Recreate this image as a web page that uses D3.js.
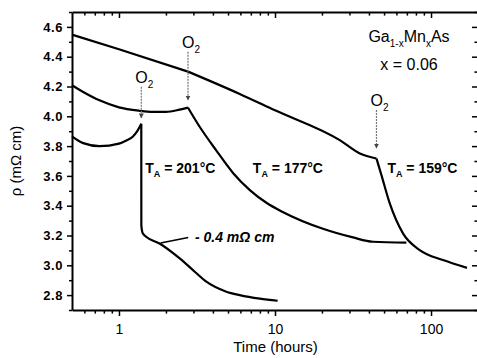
<!DOCTYPE html>
<html>
  <head>
    <meta charset="utf-8">
    <title>GaMnAs anneal</title>
    <style>
      body { margin: 0; background: #fff; }
      svg text { font-family: "Liberation Sans", Arial, sans-serif; }
    </style>
  </head>
  <body>
    <div id="chart"></div>
    <script src="https://d3js.org/d3.v7.min.js"></script>
    <script>
        var w = 477, h = 358;

        // resistivity (mOhm cm) vs time (hours)
        // each curve is split at the O2 kink
        var run201 = [
            [[0.5, 3.866], [0.59, 3.82], [0.75, 3.80], [1.0, 3.817], [1.115, 3.838], [1.23, 3.865], [1.3, 3.895], [1.39, 3.95]],
            [[1.39, 3.95], [1.391, 3.27], [1.42, 3.215], [1.5, 3.19], [1.82, 3.146], [2.45, 3.046], [2.98, 2.968], [3.63, 2.89], [4.88, 2.823], [5.94, 2.80], [8.0, 2.776], [10.4, 2.762]]
        ];
        var run177 = [
            [[0.5, 4.208], [0.59, 4.163], [0.75, 4.107], [1.0, 4.06], [1.36, 4.037], [1.6, 4.03], [2.0, 4.03], [2.45, 4.045], [2.77, 4.058]],
            [[2.77, 4.058], [3.29, 3.93], [4.21, 3.77], [5.38, 3.62], [6.9, 3.505], [8.86, 3.418], [11.2, 3.358], [20.3, 3.245], [31.6, 3.187], [42.4, 3.158], [69.5, 3.152]]
        ];
        var run159 = [
            [[0.5, 4.548], [1.0, 4.45], [2.77, 4.30]],
            [[2.77, 4.30], [5.94, 4.15], [10.0, 4.04], [26.0, 3.84], [35.0, 3.75], [44.7, 3.717]],
            [[44.7, 3.717], [48.1, 3.605], [54.4, 3.415], [66.1, 3.214], [84.7, 3.102], [119.4, 3.035], [170, 2.983]]
        ];
        var series = [run201, run177, run159];

        // O2 arrows: time, rho at arrow top, rho at arrow tip
        var o2Arrows = [[1.39, 4.199, 3.989], [2.77, 4.434, 4.109], [44.7, 4.042, 3.787]];
        var annealLabels = ["201", "177", "159"];
        var annealAt = [[1.39, 3.62], [6.8, 3.62], [49.5, 3.62]];

        var xMajor = [1, 10, 100];
        var xMinor = [0.6, 0.7, 0.8, 0.9, 2, 3, 4, 5, 6, 7, 8, 9, 20, 30, 40, 50, 60, 70, 80, 90, 200];
        var yMajor = [2.8, 3.0, 3.2, 3.4, 3.6, 3.8, 4.0, 4.2, 4.4, 4.6];
        var yMinor = [2.7, 2.9, 3.1, 3.3, 3.5, 3.7, 3.9, 4.1, 4.3, 4.5, 4.7];

        var pL = 72, pR = 478, pT = 12, pB = 310;

        var x = d3.scaleLog().domain([0.5, 200]).range([pL, pR]);
        var y = d3.scaleLinear().domain([2.7, 4.7]).range([pB, pT]);

        var svg = d3.select("#chart")
            .append("svg")
            .attr("width", w)
            .attr("height", h);

        svg.append("defs").append("marker")
            .attr("id", "head")
            .attr("viewBox", "0 0 10 10")
            .attr("refX", 9).attr("refY", 5)
            .attr("markerWidth", 5).attr("markerHeight", 6)
            .attr("markerUnits", "userSpaceOnUse")
            .attr("orient", "auto")
            .append("path")
            .attr("d", "M0,0 L10,5 L0,10 z")
            .attr("fill", "#444");

        // axes: majors + minors on all four sides
        function side(axisFn, scale, pos, major, minor, size, fmt, cls) {
            var g = svg.append("g").attr("class", cls).attr("transform", pos);
            g.call(axisFn(scale).tickValues(minor).tickSize(size * 0.6).tickFormat(""));
            var gm = svg.append("g").attr("class", cls).attr("transform", pos);
            gm.call(axisFn(scale).tickValues(major).tickSize(size).tickSizeOuter(0).tickFormat(fmt));
            g.select(".domain").remove();
            return gm;
        }

        var xb = side(d3.axisBottom, x, "translate(0," + pB + ")", xMajor, xMinor, 6, d3.format("d"), "xb");
        side(d3.axisTop, x, "translate(0," + pT + ")", xMajor, xMinor, -6, "", "xt");
        var yl = side(d3.axisLeft, y, "translate(" + pL + ",0)", yMajor, yMinor, 5, d3.format(".1f"), "yl");
        side(d3.axisRight, y, "translate(" + pR + ",0)", yMajor, yMinor, -6, "", "yr");

        svg.selectAll(".domain").attr("stroke", "#000").attr("stroke-width", 2);
        svg.selectAll(".tick line").attr("stroke", "#000").attr("stroke-width", 1.5);

        xb.selectAll("text")
            .attr("font-size", 14)
            .attr("dy", "1.05em")
            .attr("fill", "#000");
        yl.selectAll("text")
            .attr("font-size", 13)
            .attr("font-weight", "bold")
            .attr("letter-spacing", 0.6)
            .attr("x", -9)
            .attr("fill", "#000");

        // axis titles
        svg.append("text")
            .attr("x", (pL + 475) / 2 + 2)
            .attr("y", 352)
            .attr("text-anchor", "middle")
            .attr("font-size", 15)
            .text("Time (hours)");

        svg.append("text")
            .attr("transform", "translate(21," + (pT + pB) / 2 + ") rotate(-90)")
            .attr("text-anchor", "middle")
            .attr("font-size", 15)
            .text("ρ (mΩ cm)");

        // curves
        var line = d3.line()
            .x(function(d) { return x(d[0]); })
            .y(function(d) { return y(d[1]); })
            .curve(d3.curveMonotoneX);

        series.forEach(function(run) {
            svg.append("g").selectAll("path")
                .data(run)
                .enter()
                .append("path")
                .attr("d", line)
                .attr("fill", "none")
                .attr("stroke", "#000")
                .attr("stroke-width", 2.2)
                .attr("stroke-linejoin", "round");
        });

        // O2 arrows
        var arr = svg.append("g").selectAll("g")
            .data(o2Arrows)
            .enter()
            .append("g");

        arr.append("line")
            .attr("x1", function(d) { return x(d[0]); })
            .attr("x2", function(d) { return x(d[0]); })
            .attr("y1", function(d) { return y(d[1]); })
            .attr("y2", function(d) { return y(d[2]); })
            .attr("stroke", "#777")
            .attr("stroke-width", 1.2)
            .attr("stroke-dasharray", "2,1")
            .attr("marker-end", "url(#head)");

        var o2 = arr.append("text")
            .attr("x", function(d) { return x(d[0]) - 6; })
            .attr("y", function(d) { return y(d[1]) - 4; })
            .attr("font-size", 16);
        o2.append("tspan").text("O");
        o2.append("tspan").attr("font-size", 10).attr("dy", 5).text("2");

        // anneal temperatures
        var ta = svg.append("g").selectAll("text")
            .data(annealLabels)
            .enter()
            .append("text")
            .attr("x", function(d, i) { return x(annealAt[i][0]) + 4; })
            .attr("y", function(d, i) { return y(annealAt[i][1]); })
            .attr("font-size", 14)
            .attr("font-weight", "bold");
        ta.append("tspan").text("T");
        ta.append("tspan").attr("font-size", 9).attr("dy", 4).text("A");
        ta.append("tspan").attr("dy", -4).text(function(d) { return " = " + d + "°C"; });

        // sample
        var ga = svg.append("text")
            .attr("x", 409).attr("y", 42)
            .attr("text-anchor", "middle")
            .attr("font-size", 16);
        ga.append("tspan").text("Ga");
        ga.append("tspan").attr("font-size", 10).attr("dy", 5).text("1-x");
        ga.append("tspan").attr("dy", -5).text("Mn");
        ga.append("tspan").attr("font-size", 10).attr("dy", 5).text("x");
        ga.append("tspan").attr("dy", -5).text("As");

        svg.append("text")
            .attr("x", 409).attr("y", 70)
            .attr("text-anchor", "middle")
            .attr("font-size", 16)
            .text("x = 0.06");

        // drop size note
        svg.append("line")
            .attr("x1", x(1.85)).attr("y1", y(3.15))
            .attr("x2", x(2.78)).attr("y2", y(3.187))
            .attr("stroke", "#000")
            .attr("stroke-width", 1.5);

        svg.append("text")
            .attr("x", x(3.07)).attr("y", y(3.155))
            .attr("font-size", 14)
            .attr("font-weight", "bold")
            .attr("font-style", "italic")
            .text("- 0.4 mΩ cm");
    </script>
  </body>
</html>
